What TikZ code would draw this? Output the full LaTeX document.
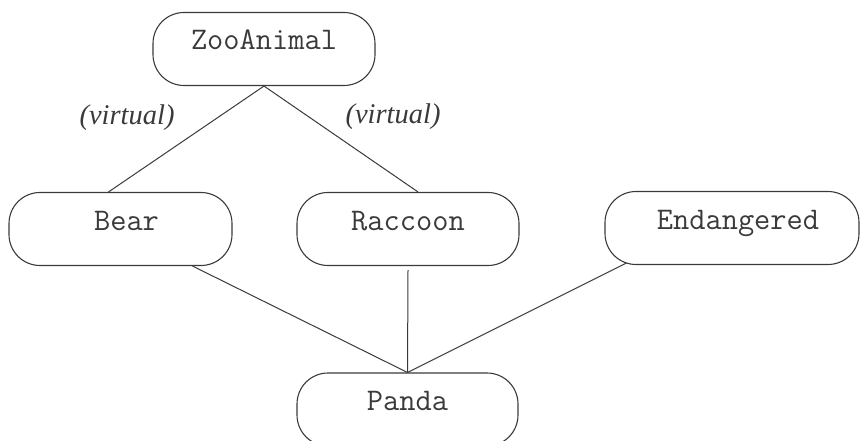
\documentclass[tikz,border=0pt]{standalone}
\usepackage{fontspec}
\setmainfont{Liberation Serif}
\usetikzlibrary{calc}
\definecolor{ink}{HTML}{3A3A3A}
\tikzset{
  classbox/.style={draw=ink, line width=1.1pt, rounded corners=31pt,
    minimum height=73pt, inner sep=0pt, text=ink,
    font=\ttfamily\fontsize{31.5}{33}\selectfont,
    text height=15pt, text depth=13pt},
  edge/.style={draw=ink, line width=1pt},
  vlabel/.style={text=ink, font=\itshape\fontsize{28.5}{30}\selectfont, inner sep=0pt}
}
\begin{document}
\begin{tikzpicture}[x=1pt,y=-1pt]
\clip (0,0) rectangle (861,441);
\node[classbox, minimum width=222pt] (zoo) at (264,49) {ZooAnimal};
\node[classbox, minimum width=223pt] (bear) at (120.5,229) {\hspace*{12pt}Bear};
\node[classbox, minimum width=222pt] (raccoon) at (408,229) {Raccoon};
\node[classbox, minimum width=254pt] (endangered) at (732,228) {\hspace*{12pt}Endangered};
\node[classbox, minimum width=221pt] (panda) at (407.5,409.5) {Panda};
\node[vlabel] (vl) at (127,118) {(virtual)};
\node[vlabel] (vr) at (393,117) {(virtual)};
\coordinate (bt) at ($(bear.north)+(-12,0)$);
\coordinate (rt) at ($(raccoon.north)+(10,0)$);
\coordinate (bb) at ($(bear.south)+(72,0)$);
\coordinate (rb) at ($(raccoon.south)+(0,4)$);
\coordinate (eb) at ($(endangered.south west)+(22,-2)$);
\draw[edge] (zoo.south) -- (bt);
\draw[edge] (zoo.south) -- (rt);
\draw[edge] (bb) -- (panda.north);
\draw[edge] (rb) -- (panda.north);
\draw[edge] (eb) -- (panda.north);
\end{tikzpicture}
\end{document}
